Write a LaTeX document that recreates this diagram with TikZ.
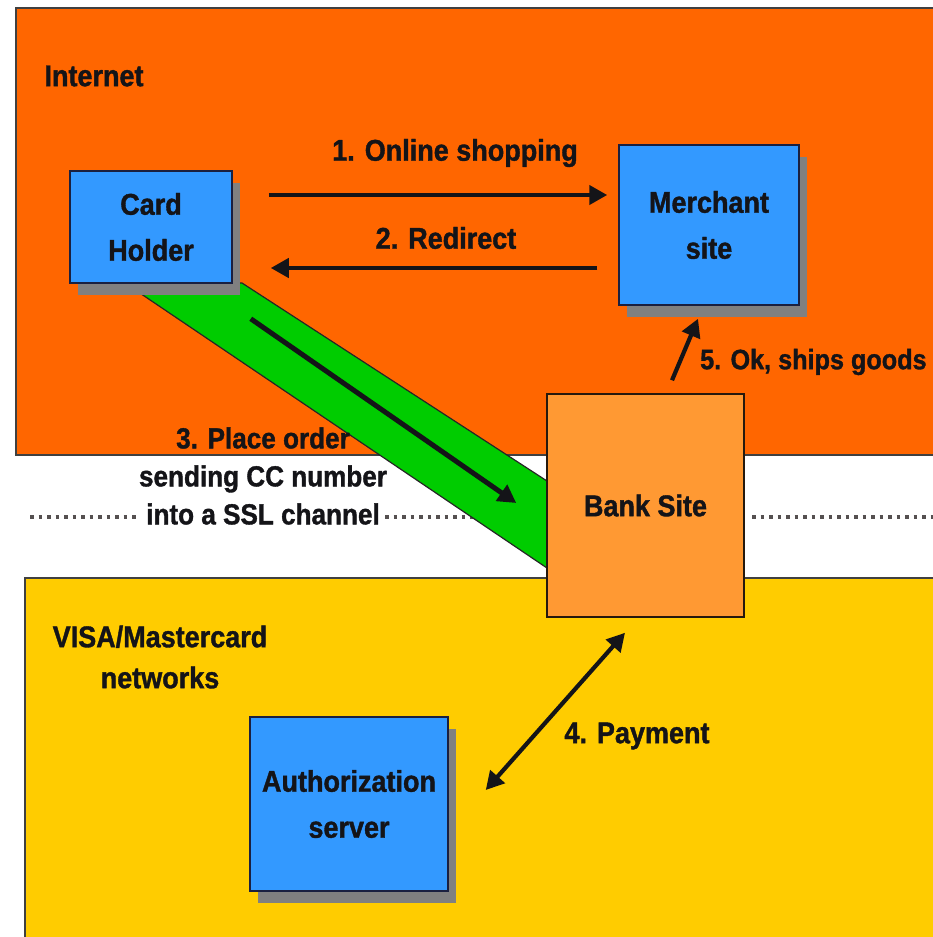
\documentclass[tikz,border=0pt]{standalone}
\usepackage{fontspec}
\setmainfont{Liberation Sans}[FakeStretch=0.9, BoldFeatures={FakeBold=1.2}]
\usetikzlibrary{shadows,arrows.meta,calc}

\definecolor{netorange}{HTML}{FF6600}
\definecolor{cardyellow}{HTML}{FFCC00}
\definecolor{boxblue}{HTML}{3399FF}
\definecolor{bankorange}{HTML}{FF9933}
\definecolor{sslgreen}{HTML}{00CC00}
\definecolor{boxline}{HTML}{1A2040}
\definecolor{inkdark}{HTML}{141418}
\definecolor{shadowgray}{HTML}{808080}
\definecolor{dotgray}{HTML}{555050}

\begin{document}
\begin{tikzpicture}[x=1pt,y=-1pt,
  every node/.style={font=\bfseries\fontsize{30}{46}\selectfont, text=inkdark},
  zone/.style={draw=black!75, line width=1.5pt},
  box/.style={draw=boxline, line width=1.5pt, fill=boxblue, align=center,
    inner sep=0pt,
    drop shadow={shadow xshift=8pt, shadow yshift=-12pt, fill=shadowgray, opacity=1}},
  bankbox/.style={draw=black!80!brown, line width=1.5pt, fill=bankorange,
    align=center, inner sep=0pt},
  arr/.style={line width=4.2pt, draw=inkdark, -{Triangle[length=18pt,width=19pt]}},
  dblarr/.style={line width=4.2pt, draw=inkdark,
    {Triangle[length=18pt,width=19pt]}-{Triangle[length=18pt,width=19pt]}},
  border/.style={draw=dotgray, line width=3.5pt, dash pattern=on 3.5pt off 5pt},
  ssl/.style={fill=sslgreen, draw=black!85, line width=1.2pt},
]
\useasboundingbox (0,0) rectangle (933,937);

% zones: Internet (top) and card networks (bottom)
\fill[white] (0,0) rectangle (933,937);
\path[zone, fill=netorange] (16,8) rectangle (960,455);
\path[zone, fill=cardyellow] (25,578) rectangle (960,960);

% dotted boundary between the zones
\draw[border] (30,517) -- (136,517);
\draw[border] (385,517) -- (478,517);
\draw[border] (752,517) -- (933,517);

% SSL channel from the card holder to the bank
\path[ssl] (125,283) -- (242,283) -- (547,481) -- (547,568) -- cycle;

% parties
\node[box, minimum width=162pt, minimum height=112pt] (ch) at (151,227) {Card\\Holder};
\node[box, minimum width=180pt, minimum height=160pt] (ms) at (709,225) {Merchant\\site};
\node[bankbox, minimum width=197pt, minimum height=223pt] (bank) at (645.5,505.5) {Bank Site};
\node[box, minimum width=198pt, minimum height=174pt] (auth) at (349,804) {Authorization\\server};

% zone captions
\node (inet) at (94,76) {Internet};
\node[align=center, font=\bfseries\fontsize{30}{41}\selectfont] (visa) at (160,657) {VISA/Mastercard\\networks};

% message flow
\draw[arr] ([xshift=36pt,yshift=32pt]ch.east) -- ([xshift=-11pt,yshift=30pt]ms.west);
\node (l1) at (455,153) {1. Online shopping};

\draw[arr] ([xshift=-21pt,yshift=-43pt]ms.west) -- ([xshift=38pt,yshift=-41pt]ch.east);
\node (l2) at (446,238) {2. Redirect};

\draw[arr, line width=5pt] ([xshift=18pt,yshift=-35pt]ch.south east) -- ([xshift=-30pt,yshift=2.5pt]bank.west);
\node[align=center, font=\bfseries\fontsize{29}{38}\selectfont] (l3) at (263,476)
  {3. Place order\\sending CC number\\into a SSL channel};

\draw[dblarr] ([xshift=37pt,yshift=14pt]auth.east) -- ([xshift=-20.5pt,yshift=-15pt]bank.south);
\node (l4) at (637,736) {4. Payment};

\draw[arr] ([xshift=26.5pt,yshift=13pt]bank.north) -- ([xshift=-11pt,yshift=-13pt]ms.south);
\node[anchor=west, inner xsep=0pt, font=\bfseries\fontsize{28}{46}\selectfont] (l5) at (700,362) {5. Ok, ships goods};
\end{tikzpicture}
\end{document}
